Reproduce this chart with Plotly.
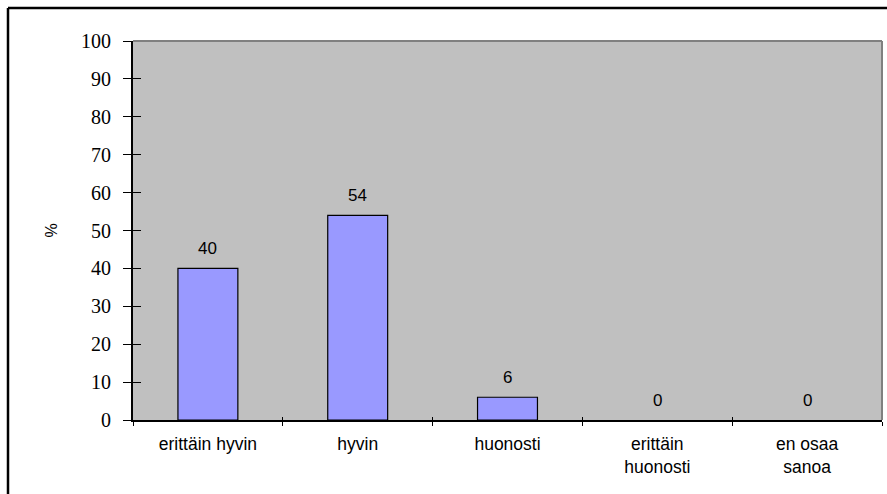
import plotly.graph_objects as go

categories = ["erittäin hyvin", "hyvin", "huonosti", "erittäin<br>huonosti", "en osaa<br>sanoa"]
values = [40, 54, 6, 0, 0]
value_labels = ["40", "54", "6", "0", "0"]
y_tick_values = [0, 10, 20, 30, 40, 50, 60, 70, 80, 90, 100]

L, R, T, B = 133, 5, 41, 74
W, H = 887, 494
pw, ph = W - L - R, H - T - B

fig = go.Figure()
fig.add_trace(go.Bar(
    x=categories, y=values, width=0.4,
    marker=dict(color="#9999FF",
                line=dict(color="black", width=[1.2 if v > 0 else 0 for v in values])),
    hoverinfo="skip",
))
# inside half of the cross ticks
fig.add_trace(go.Scatter(x=categories, y=values, yaxis="y2", xaxis="x2",
                         mode="markers", marker=dict(opacity=0), hoverinfo="skip"))

annotations = [
    dict(x=c, y=v, text=t, xref="x", yref="y", showarrow=False,
         yanchor="bottom", yshift=8,
         font=dict(family="Liberation Sans, Arial", size=17, color="black"))
    for c, v, t in zip(categories, values, value_labels)
]

fig.update_layout(
    width=W, height=H,
    margin=dict(l=L, r=R, t=T, b=B, pad=0),
    paper_bgcolor="white", plot_bgcolor="#C0C0C0",
    showlegend=False, bargap=0.6,
    annotations=annotations,
    xaxis=dict(
        type="category", tickson="boundaries", ticks="outside", ticklen=4,
        tickwidth=1.2, tickcolor="black",
        showline=True, linecolor="black", linewidth=1.5, showgrid=False,
        tickfont=dict(family="Liberation Sans, Arial", size=17.5, color="black"),
        ticklabelstandoff=7, zeroline=False, fixedrange=True,
    ),
    xaxis2=dict(
        type="category", overlaying="x", matches="x", tickson="boundaries",
        ticks="inside", ticklen=3, tickwidth=1.2, tickcolor="black",
        showticklabels=False, showline=False, showgrid=False, zeroline=False,
    ),
    yaxis=dict(
        range=[0, 100], tickvals=y_tick_values, ticks="outside", ticklen=8,
        tickwidth=1.2, tickcolor="black",
        showline=True, linecolor="black", linewidth=2, showgrid=False, zeroline=False,
        tickfont=dict(family="Liberation Serif, Times New Roman", size=20, color="black"),
        ticklabelstandoff=8,
        title=dict(text="%", font=dict(family="Liberation Sans, Arial", size=16, color="black"),
                   standoff=19),
    ),
    yaxis2=dict(
        range=[0, 100], tickvals=y_tick_values, overlaying="y", ticks="inside", ticklen=8,
        tickwidth=1.2, tickcolor="black", showticklabels=False,
        showline=False, showgrid=False, zeroline=False,
    ),
    shapes=[
        dict(type="line", xref="paper", yref="paper", x0=0, x1=1, y0=1, y1=1,
             line=dict(color="#808080", width=2)),
        dict(type="line", xref="paper", yref="paper", x0=1, x1=1, y0=0, y1=1,
             line=dict(color="#808080", width=2)),
        dict(type="line", xref="paper", yref="paper",
             x0=(8 - L) / pw, x1=(8 - L) / pw, y0=(T + ph - 8) / ph, y1=-1,
             line=dict(color="black", width=2.5)),
        dict(type="line", xref="paper", yref="paper",
             x0=(8 - L) / pw, x1=1.2, y0=(T + ph - 8) / ph, y1=(T + ph - 8) / ph,
             line=dict(color="black", width=2.5)),
    ],
)

fig.write_html(
    "out.html",
    config={"displayModeBar": False},
    post_script="document.body.style.margin='0';document.body.style.overflow='hidden';",
)
